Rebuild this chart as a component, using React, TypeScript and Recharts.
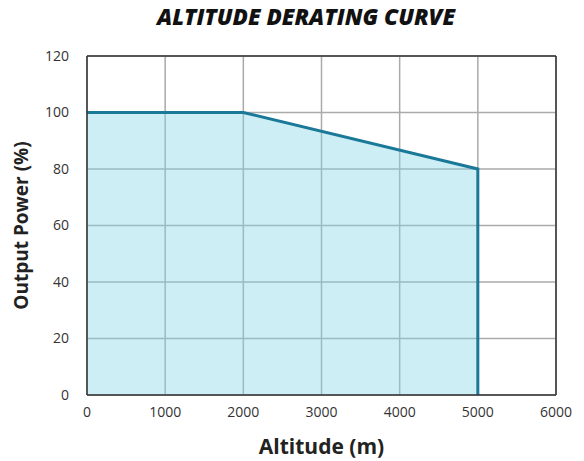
import { AreaChart, Area, XAxis, YAxis, CartesianGrid, ReferenceLine } from 'recharts';

const altitude = [0, 2000, 5000, 5000];
const outputPower = [100, 100, 80, 0];
const xTicks = [0, 1000, 2000, 3000, 4000, 5000, 6000];
const yTicks = [0, 20, 40, 60, 80, 100, 120];

const data = altitude.map((alt, i) => ({ alt, power: outputPower[i] }));

const font = '"Open Sans", sans-serif';

const App = () => {
  return (
    <div style={{ position: 'absolute', left: 0, top: 0, width: 584, height: 461, background: '#fff', fontFamily: font }}>
      <div
        style={{
          position: 'absolute',
          left: 0,
          width: 612,
          top: 1,
          textAlign: 'center',
          fontSize: 22.5,
          fontWeight: 800,
          fontStyle: 'italic',
          color: '#111',
        }}
      >
        ALTITUDE DERATING CURVE
      </div>
      <AreaChart width={584} height={461} data={data} margin={{ top: 56, right: 28, left: 0, bottom: 0 }}>
        <CartesianGrid stroke="#aaaaaa" strokeWidth={1.5} />
        <XAxis
          dataKey="alt"
          type="number"
          domain={[0, 6000]}
          ticks={xTicks}
          interval={0}
          height={66}
          axisLine={{ stroke: '#333', strokeWidth: 1.5 }}
          tickLine={false}
          tick={{ fill: '#333', fontSize: 14, fontFamily: font }}
          tickMargin={6}
          label={{ value: 'Altitude (m)', position: 'insideBottom', offset: 7, fill: '#222', fontSize: 21, fontWeight: 700, fontFamily: font }}
        />
        <YAxis
          type="number"
          domain={[0, 120]}
          ticks={yTicks}
          interval={0}
          width={87}
          axisLine={{ stroke: '#333', strokeWidth: 1.5 }}
          tickLine={false}
          tick={{ fill: '#333', fontSize: 14, fontFamily: font }}
          tickMargin={12}
          label={{ value: 'Output Power (%)', angle: -90, position: 'insideLeft', offset: 21, style: { textAnchor: 'middle' }, fill: '#222', fontSize: 19, fontWeight: 700, fontFamily: font }}
        />
        <Area
          type="linear"
          dataKey="power"
          stroke="#1a7898"
          strokeWidth={3}
          fill="#82d4e6"
          fillOpacity={0.4}
          isAnimationActive={false}
        />
        <ReferenceLine y={120} stroke="#333" strokeWidth={1.5} />
        <ReferenceLine x={6000} stroke="#333" strokeWidth={1.5} />
      </AreaChart>
    </div>
  );
};

export default App;
